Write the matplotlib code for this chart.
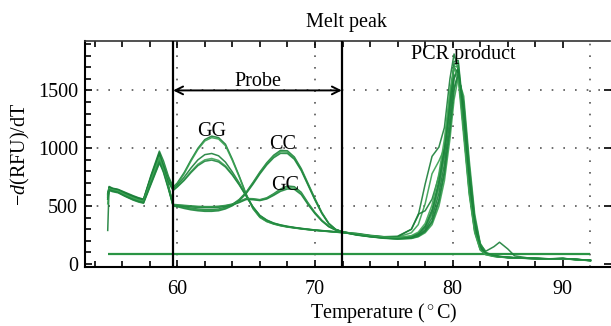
import matplotlib
matplotlib.use("Agg")
import matplotlib.pyplot as plt

plt.rcParams["font.family"] = ["Liberation Serif", "DejaVu Serif"]
plt.rcParams["mathtext.fontset"] = "custom"
plt.rcParams["mathtext.rm"] = "Liberation Serif"
plt.rcParams["mathtext.it"] = "Liberation Serif:italic"

# temperature grids for the three stretches of each melt curve
T_EARLY = [54.95, 55.05, 55.3, 55.7, 56.2, 56.8, 57.2, 57.55, 58.1, 58.7, 59.0, 59.35, 59.7]
T_PROBE = [60.0, 60.5, 61.0, 61.5, 62.0, 62.5, 63.0, 63.5, 64.0, 64.5, 65.0, 65.5,
           66.0, 66.5, 67.0, 67.5, 68.0, 68.5, 69.0, 69.5, 70.0, 70.5, 71.0, 71.5, 72.0]
T_PCR = [73, 74, 75, 76, 77, 77.5, 78, 78.5, 79, 79.4, 79.8, 80.1, 80.4, 80.8, 81.2,
         81.6, 82.0, 82.4, 83.0, 83.4, 84.0, 84.5, 85.5, 87, 88, 90]

# -d(RFU)/dT, one row per well (5 GG, 3 CC, 3 GC)
EARLY = [
    [290, 670, 655, 645, 620, 590, 572, 560, 770, 975, 890, 760, 665],
    [520, 660, 648, 640, 612, 580, 562, 550, 750, 950, 870, 745, 655],
    [600, 650, 640, 632, 600, 570, 555, 545, 730, 925, 850, 735, 648],
    [560, 640, 630, 622, 590, 560, 545, 535, 705, 890, 825, 720, 640],
    [580, 635, 625, 615, 585, 552, 535, 525, 690, 870, 810, 710, 635],
    [600, 665, 652, 642, 615, 585, 568, 558, 760, 960, 835, 680, 512],
    [570, 655, 645, 635, 605, 575, 558, 548, 740, 940, 820, 670, 505],
    [590, 645, 635, 625, 595, 565, 548, 540, 720, 910, 800, 660, 500],
    [610, 660, 650, 640, 610, 582, 566, 556, 750, 955, 830, 675, 515],
    [580, 650, 640, 630, 600, 570, 552, 542, 725, 920, 810, 665, 508],
    [560, 642, 632, 620, 588, 556, 540, 530, 700, 880, 790, 650, 502],
]
PROBE = [
    [700, 790, 900, 1000, 1075, 1105, 1092, 1035, 905, 760, 605, 480, 405, 368, 347, 332, 321, 313, 305, 298, 292, 287, 282, 277, 272],
    [690, 780, 890, 990, 1063, 1092, 1080, 1022, 895, 752, 600, 478, 402, 366, 345, 330, 319, 311, 303, 296, 290, 285, 280, 275, 270],
    [680, 750, 830, 900, 945, 955, 935, 880, 795, 700, 592, 490, 415, 375, 350, 334, 322, 313, 305, 298, 292, 286, 281, 276, 271],
    [670, 730, 800, 862, 900, 912, 895, 848, 775, 688, 590, 492, 418, 378, 352, 336, 324, 315, 307, 300, 293, 288, 283, 278, 273],
    [665, 722, 790, 850, 888, 898, 882, 838, 768, 683, 588, 493, 420, 380, 354, 338, 326, 316, 308, 301, 294, 289, 284, 279, 274],
    [505, 492, 482, 475, 470, 470, 475, 490, 515, 558, 620, 705, 795, 875, 940, 982, 978, 925, 825, 695, 565, 445, 352, 300, 278],
    [500, 488, 476, 468, 463, 462, 468, 483, 510, 552, 615, 698, 787, 866, 930, 970, 967, 915, 815, 687, 558, 440, 350, 298, 277],
    [495, 480, 468, 460, 455, 455, 460, 476, 503, 546, 608, 690, 778, 856, 918, 956, 955, 905, 808, 680, 552, 436, 347, 297, 276],
    [512, 507, 502, 498, 496, 496, 499, 506, 518, 540, 566, 564, 556, 572, 607, 648, 674, 668, 620, 528, 445, 378, 327, 296, 280],
    [508, 503, 498, 494, 492, 492, 495, 502, 514, 536, 562, 560, 552, 567, 600, 638, 661, 656, 610, 520, 440, 374, 324, 294, 279],
    [504, 498, 493, 489, 487, 487, 490, 497, 510, 531, 557, 555, 548, 562, 593, 628, 648, 645, 600, 513, 435, 371, 322, 293, 278],
]
PCR = [
    [262, 245, 235, 240, 300, 420, 690, 930, 1010, 1180, 1600, 1815, 1680, 1150, 640, 290, 130, 85, 68, 62, 56, 53, 49, 43, 46, 30],
    [258, 242, 232, 232, 270, 340, 520, 780, 890, 1000, 1450, 1710, 1700, 1200, 680, 320, 145, 90, 70, 63, 57, 54, 50, 44, 47, 31],
    [265, 248, 236, 235, 300, 430, 460, 560, 760, 1000, 1350, 1620, 1690, 1300, 780, 380, 170, 110, 150, 188, 130, 70, 52, 45, 47, 32],
    [255, 240, 228, 222, 232, 255, 310, 430, 660, 930, 1350, 1720, 1740, 1250, 700, 320, 140, 88, 68, 62, 56, 53, 49, 43, 46, 30],
    [252, 236, 225, 218, 225, 242, 285, 370, 560, 800, 1180, 1520, 1650, 1380, 800, 380, 160, 95, 72, 64, 57, 54, 50, 44, 47, 31],
    [258, 243, 231, 226, 240, 265, 330, 470, 720, 1000, 1420, 1700, 1650, 1150, 620, 280, 125, 82, 66, 60, 55, 52, 48, 42, 45, 29],
    [250, 235, 222, 215, 220, 235, 270, 340, 500, 720, 1080, 1420, 1610, 1450, 900, 430, 180, 100, 74, 66, 59, 55, 51, 45, 48, 32],
    [256, 241, 230, 224, 236, 260, 320, 450, 690, 960, 1380, 1750, 1760, 1300, 720, 330, 145, 90, 69, 62, 56, 53, 49, 43, 46, 30],
    [254, 238, 226, 220, 228, 248, 295, 400, 610, 860, 1260, 1600, 1680, 1330, 760, 350, 150, 92, 70, 63, 57, 53, 49, 43, 47, 31],
    [260, 244, 233, 228, 245, 275, 350, 510, 780, 1080, 1500, 1700, 1600, 1100, 600, 270, 120, 80, 65, 60, 55, 52, 48, 42, 45, 29],
    [253, 237, 224, 217, 223, 240, 280, 360, 540, 780, 1150, 1500, 1640, 1400, 850, 400, 170, 96, 73, 65, 58, 54, 50, 44, 48, 31],
]

THRESHOLD = 86
THRESH_RANGE = (54.95, 90.0)
PROBE_WINDOW = (59.7, 71.95)

LABELS = [("GG", 62.5, 1106), ("CC", 67.65, 991), ("GC", 67.82, 640),
          ("PCR product", 80.77, 1769)]

XTICKS = [60, 70, 80, 88]
XTICKLABELS = ["60", "70", "80", "90"]

FS = 14.5

fig = plt.figure(figsize=(6.11, 3.26), dpi=100)
ax = fig.add_axes([85 / 611, 59 / 326, (610.5 - 85) / 611, 226 / 326])

# dotted grid
for gx in [60, 70, 80, 90]:
    ax.axvline(gx, color="#555555", lw=1.2, ls=(0, (1, 6)), zorder=0)
for gy in [500, 1000, 1500]:
    ax.axhline(gy, color="#555555", lw=1.2, ls=(0, (1, 6)), zorder=0)

ax.hlines(THRESHOLD, *THRESH_RANGE, color="#2a9444", lw=1.6, zorder=2)

greens = ["#1a7f38", "#37a050", "#1a7f38", "#3fa556", "#1f873e", "#1a7f38",
          "#37a050", "#1f873e", "#1a7f38", "#3fa556", "#1f873e"]
for i in range(len(EARLY)):
    xs = T_EARLY + T_PROBE + T_PCR
    ys = EARLY[i] + PROBE[i] + PCR[i]
    ax.plot(xs, ys, color=greens[i], lw=1.1, alpha=0.9, zorder=3)

for xv in PROBE_WINDOW:
    ax.axvline(xv, color="black", lw=1.6, zorder=5)
ax.annotate("", xy=(PROBE_WINDOW[0], 1500), xytext=(PROBE_WINDOW[1], 1500),
            arrowprops=dict(arrowstyle="<->", lw=1.4, color="black",
                            mutation_scale=14, shrinkA=0, shrinkB=0), zorder=6)
ax.text(sum(PROBE_WINDOW) / 2, 1535, "Probe", ha="center", va="baseline", fontsize=FS)

for txt, tx, ty in LABELS:
    ax.text(tx, ty, txt, ha="center", va="baseline", fontsize=FS, zorder=7)

ax.set_xlim(53.3, 91.46)
ax.set_ylim(-26, 1927)

ax.set_xticks(XTICKS)
ax.set_xticklabels(XTICKLABELS)
ax.set_xticks([t for t in range(54, 89, 2) if t not in XTICKS], minor=True)
ax.set_yticks([0, 500, 1000, 1500])
ax.set_yticks([t for t in range(100, 1901, 100) if t % 500], minor=True)
ax.tick_params(direction="in", which="both", top=True, right=True, width=1.2,
               labelsize=FS)
ax.tick_params(which="major", length=5)
ax.tick_params(which="minor", length=4)
ax.tick_params(axis="y", which="minor", right=False)
ax.tick_params(axis="x", pad=9)
ax.tick_params(axis="y", pad=5)

for s in ["left", "bottom"]:
    ax.spines[s].set_linewidth(1.5)
ax.spines["top"].set_linewidth(1.2)
ax.spines["top"].set_color("#333333")
ax.spines["right"].set_visible(False)

ax.set_xlabel("Temperature ($^\\circ$C)", fontsize=FS, labelpad=2)
ax.xaxis.label.set_x((384 - 85) / (610.5 - 85))
ax.set_ylabel("$-d$(RFU)/dT", fontsize=FS)
fig.text(346 / 611, 1 - 23 / 326, "Melt peak", ha="center", va="center", fontsize=FS)

fig.savefig("out.png", dpi=100)
